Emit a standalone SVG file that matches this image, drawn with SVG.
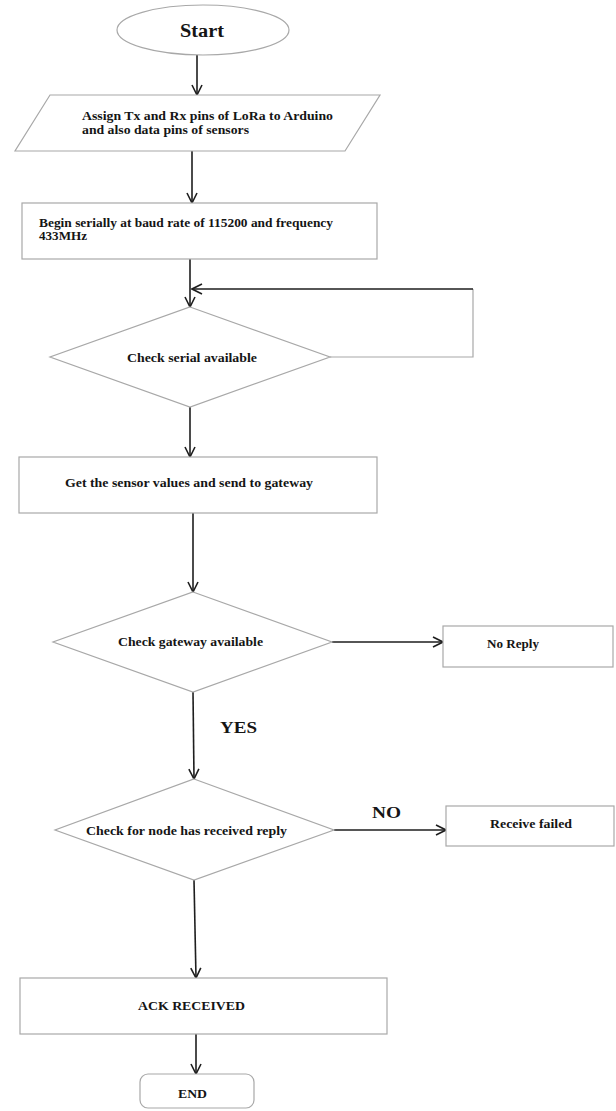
<svg xmlns="http://www.w3.org/2000/svg" width="616" height="1111" viewBox="0 0 616 1111">
  <defs>
    <marker id="open-arrow" viewBox="0 0 12 12" refX="11" refY="6" markerWidth="12" markerHeight="12" markerUnits="userSpaceOnUse" orient="auto">
      <path d="M1,1 L11,6 L1,11" fill="none" stroke="#1e1e1e" stroke-width="1.6"/>
    </marker>
    <style>
      .shape { fill: #ffffff; stroke: #a8a8a8; stroke-width: 1.2; }
      .link { fill: none; stroke: #1e1e1e; stroke-width: 1.6; }
      .loop { fill: none; stroke: #a8a8a8; stroke-width: 1.2; }
      .arrow { marker-end: url(#open-arrow); }
      .txt { font-family: "Liberation Serif", "Times New Roman", serif; font-weight: bold; font-size: 12px; fill: #151515; }
      .big { font-size: 17px; }
    </style>
  </defs>
  <rect width="616" height="1111" fill="#ffffff"/>

  <g id="connectors">
    <line class="link arrow" x1="197" y1="55" x2="197" y2="95"/>
    <line class="link arrow" x1="192" y1="151" x2="192" y2="203"/>
    <line class="link arrow" x1="190" y1="259" x2="190" y2="307"/>
    <!-- loop back from the serial check -->
    <polyline class="loop" points="330,357 473,357 473,289"/>
    <line class="link arrow" x1="473" y1="289" x2="192" y2="289"/>
    <line class="link arrow" x1="190" y1="407" x2="190" y2="457"/>
    <line class="link arrow" x1="193" y1="513" x2="193" y2="592"/>
    <line class="link arrow" x1="332" y1="642" x2="443" y2="642"/>
    <line class="link arrow" x1="193" y1="692" x2="194" y2="779"/>
    <line class="link arrow" x1="334" y1="830" x2="446" y2="830"/>
    <line class="link arrow" x1="194" y1="880" x2="196" y2="978"/>
    <line class="link arrow" x1="196" y1="1034" x2="196" y2="1074"/>
    <text class="txt big" x="220" y="733" textLength="37" lengthAdjust="spacingAndGlyphs">YES</text>
    <text class="txt big" x="372" y="818" textLength="29" lengthAdjust="spacingAndGlyphs">NO</text>
  </g>

  <g id="start">
    <ellipse class="shape" cx="203" cy="30" rx="86" ry="25"/>
    <text class="txt" style="font-size:18px" x="180" y="37" textLength="44" lengthAdjust="spacingAndGlyphs">Start</text>
  </g>

  <g id="assign-pins">
    <polygon class="shape" points="50,95 380,95 345,151 15,151"/>
    <text class="txt" x="82" y="120" textLength="251" lengthAdjust="spacingAndGlyphs">Assign Tx and Rx pins of LoRa to Arduino</text>
    <text class="txt" x="82" y="134" textLength="167" lengthAdjust="spacingAndGlyphs">and also data pins of sensors</text>
  </g>

  <g id="begin-serial">
    <rect class="shape" x="22" y="203" width="355" height="56"/>
    <text class="txt" x="39" y="227" textLength="294" lengthAdjust="spacingAndGlyphs">Begin serially at baud rate of 115200 and frequency</text>
    <text class="txt" x="39" y="240" textLength="48" lengthAdjust="spacingAndGlyphs">433MHz</text>
  </g>

  <g id="check-serial">
    <polygon class="shape" points="190,307 330,357 190,407 50,357"/>
    <text class="txt" x="127" y="362" textLength="130" lengthAdjust="spacingAndGlyphs">Check serial available</text>
  </g>

  <g id="get-values">
    <rect class="shape" x="19" y="457" width="358" height="56"/>
    <text class="txt" x="65" y="487" textLength="248" lengthAdjust="spacingAndGlyphs">Get the sensor values and send to gateway</text>
  </g>

  <g id="check-gateway">
    <polygon class="shape" points="193,592 332,642 193,692 53,642"/>
    <text class="txt" x="118" y="646" textLength="145" lengthAdjust="spacingAndGlyphs">Check gateway available</text>
  </g>

  <g id="no-reply">
    <rect class="shape" x="443" y="626" width="170" height="41"/>
    <text class="txt" x="487" y="648" textLength="52" lengthAdjust="spacingAndGlyphs">No Reply</text>
  </g>

  <g id="check-reply">
    <polygon class="shape" points="194,779 334,830 194,880 55,830"/>
    <text class="txt" x="86" y="835" textLength="201" lengthAdjust="spacingAndGlyphs">Check for node has received reply</text>
  </g>

  <g id="receive-failed">
    <rect class="shape" x="446" y="806" width="168" height="40"/>
    <text class="txt" x="490" y="828" textLength="82" lengthAdjust="spacingAndGlyphs">Receive failed</text>
  </g>

  <g id="ack-received">
    <rect class="shape" x="20" y="978" width="367" height="56"/>
    <text class="txt" style="font-size:13px" x="138" y="1010" textLength="107" lengthAdjust="spacingAndGlyphs">ACK RECEIVED</text>
  </g>

  <g id="end">
    <rect class="shape" x="140" y="1074" width="114" height="34" rx="8" ry="8"/>
    <text class="txt" x="178" y="1098" textLength="29" lengthAdjust="spacingAndGlyphs">END</text>
  </g>
</svg>
